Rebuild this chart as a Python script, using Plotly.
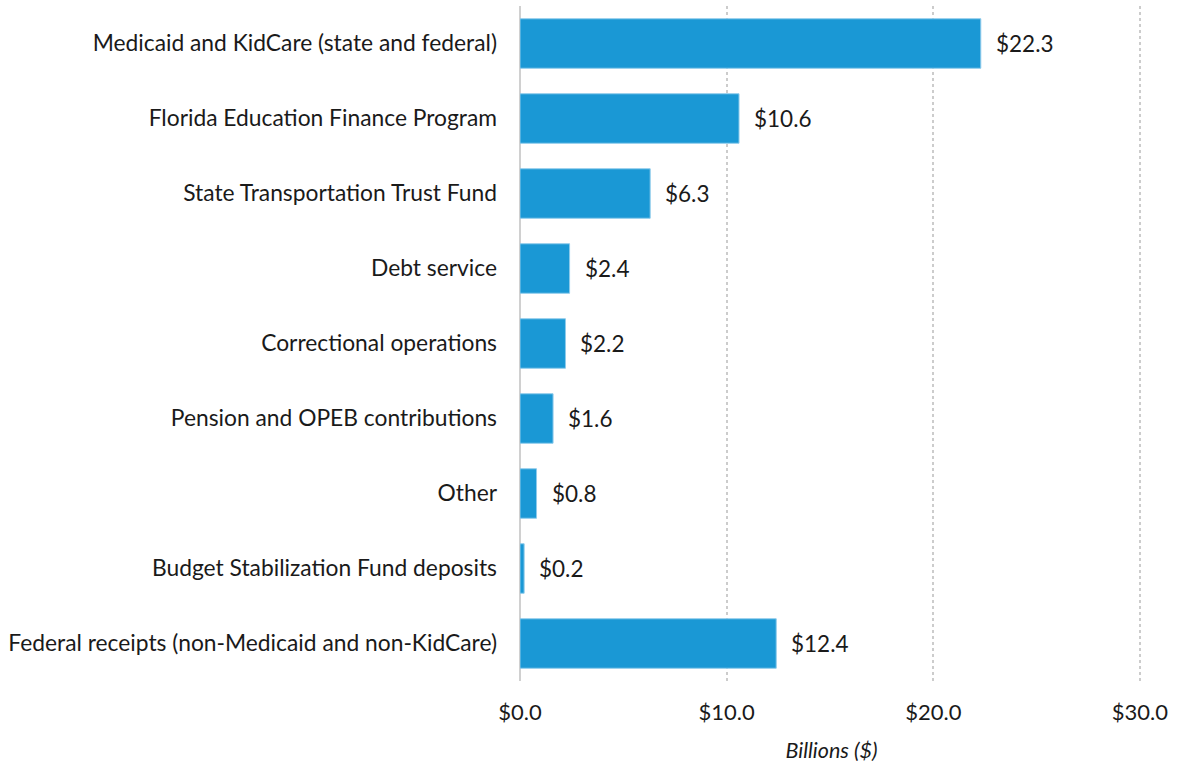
import plotly.graph_objects as go

categories = [
    "Medicaid and KidCare (state and federal)",
    "Florida Education Finance Program",
    "State Transportation Trust Fund",
    "Debt service",
    "Correctional operations",
    "Pension and OPEB contributions",
    "Other",
    "Budget Stabilization Fund deposits",
    "Federal receipts (non-Medicaid and non-KidCare)",
]
values = [22.3, 10.6, 6.3, 2.4, 2.2, 1.6, 0.8, 0.2, 12.4]
value_labels = ["$22.3", "$10.6", "$6.3", "$2.4", "$2.2", "$1.6", "$0.8", "$0.2", "$12.4"]
x_ticks = [0, 10, 20, 30]
x_tick_labels = ["$0.0", "$10.0", "$20.0", "$30.0"]

FONT = "Lato, 'Open Sans', sans-serif"
BLUE = "#1A98D5"
TXT = "#1a1a1a"

fig = go.Figure()
fig.add_trace(go.Bar(
    y=categories,
    x=values,
    orientation="h",
    marker=dict(color=BLUE, line=dict(color="#8fcbeb", width=1)),
    hoverinfo="skip",
))

for c, v, t in zip(categories, values, value_labels):
    fig.add_annotation(
        x=v, y=c, text=t, showarrow=False, xanchor="left", xshift=13,
        font=dict(family=FONT, size=22.5, color=TXT),
    )

fig.update_layout(
    width=1179, height=763,
    margin=dict(l=520, r=36, t=6, b=82, autoexpand=False),
    plot_bgcolor="white", paper_bgcolor="white",
    bargap=0.34,
    showlegend=False,
    font=dict(family=FONT, size=22, color=TXT),
)
fig.update_yaxes(
    categoryorder="array", categoryarray=categories, autorange="reversed",
    showgrid=False, ticks="", ticklabelstandoff=22, automargin=False,
    tickfont=dict(family=FONT, size=22.8, color=TXT),
)
fig.update_xaxes(
    range=[0, 30.15], tickvals=x_ticks, ticktext=x_tick_labels,
    showgrid=True, gridcolor="#cccccc", griddash="dot", gridwidth=2,
    zeroline=True, zerolinecolor="#d0d0d0", zerolinewidth=2,
    ticks="", ticklabelstandoff=16, automargin=False,
    tickfont=dict(family=FONT, size=22, color=TXT),
    title=dict(text="<i>Billions ($)</i>", font=dict(family=FONT, size=21.5, color=TXT), standoff=20),
)

fig.write_html(
    "out.html",
    config={"displayModeBar": False},
    post_script="document.body.style.margin='0';document.body.style.padding='0';",
)
